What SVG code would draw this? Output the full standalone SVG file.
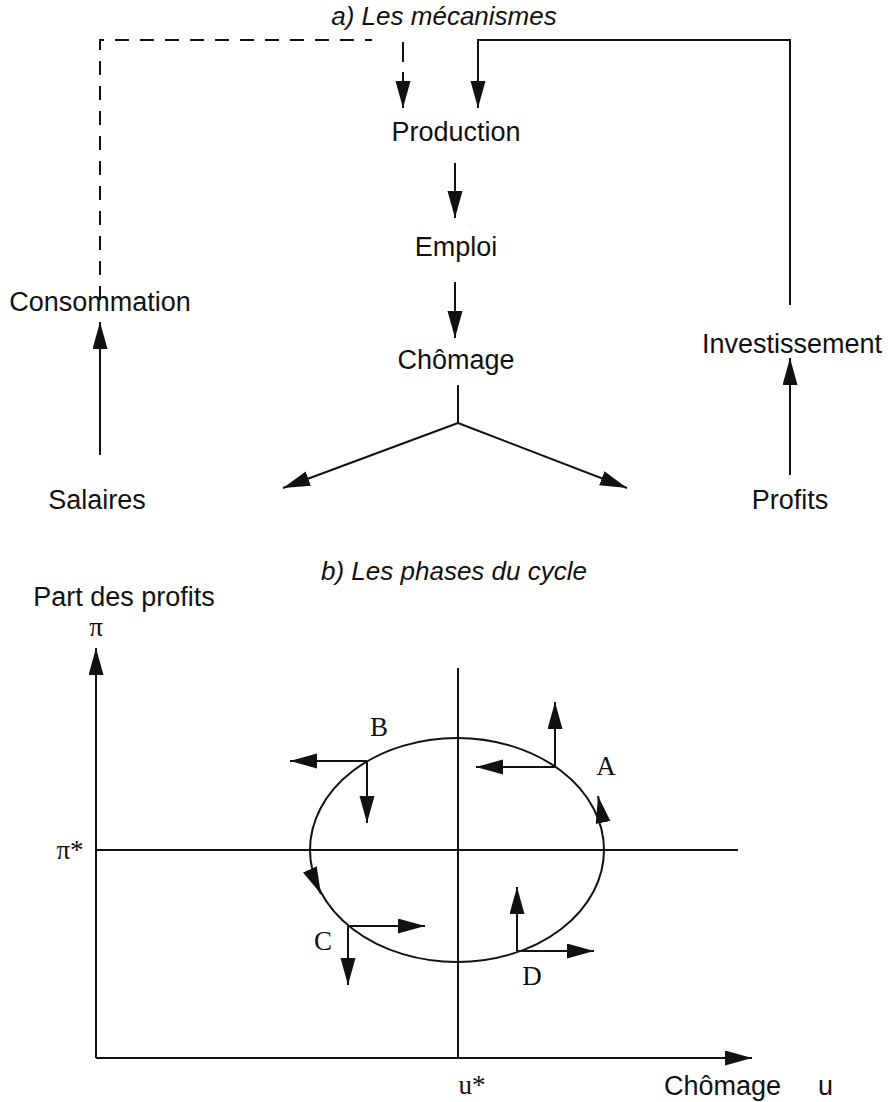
<svg xmlns="http://www.w3.org/2000/svg" width="890" height="1102" viewBox="0 0 890 1102">
<style>
.t{font-family:"Liberation Sans",Arial,sans-serif;font-size:27px;fill:#111;text-anchor:middle}
.ts{font-family:"Liberation Sans",Arial,sans-serif;font-size:27px;fill:#111}
.ti{font-family:"Liberation Sans",Arial,sans-serif;font-size:26px;font-style:italic;fill:#111;text-anchor:middle}
.s{font-family:"Liberation Serif","Times New Roman",serif;font-size:27px;fill:#111;text-anchor:middle}
.l{stroke:#111;stroke-width:2;fill:none}
.d{stroke:#111;stroke-width:2;fill:none;stroke-dasharray:14,11}
.a{stroke:#111;stroke-width:2;fill:none;marker-end:url(#ah)}
.ad{stroke:#111;stroke-width:2;fill:none;stroke-dasharray:20,10;marker-end:url(#ah)}
</style>
<defs>
<marker id="ah" markerUnits="userSpaceOnUse" markerWidth="30" markerHeight="16" refX="27" refY="7.5" orient="auto">
<path d="M0,0 L27,7.5 L0,15 z" fill="#111"/>
</marker>
</defs>
<rect width="890" height="1102" fill="#fff"/>
<text class="ti" x="444" y="25">a) Les mécanismes</text>
<g id="production"><text class="t" x="456" y="141">Production</text></g>
<g id="emploi"><text class="t" x="456" y="256">Emploi</text></g>
<g id="chomage"><text class="t" x="456" y="369">Chômage</text></g>
<g id="consommation"><text class="t" x="100" y="311">Consommation</text></g>
<g id="salaires"><text class="t" x="97" y="509">Salaires</text></g>
<g id="investissement"><text class="t" x="792" y="353">Investissement</text></g>
<g id="profits"><text class="t" x="790" y="509">Profits</text></g>
<g id="connectors">
<path class="d" d="M100,300 V40 H372"/>
<path class="ad" d="M403,42 V108"/>
<path class="a" d="M790,305 V40 H478 V108"/>
<path class="a" d="M455,163 V218"/>
<path class="a" d="M455,282 V338"/>
<path class="l" d="M458,385 V423"/>
<path class="a" d="M458,423 L283,488"/>
<path class="a" d="M458,423 L627,488"/>
<path class="a" d="M100,455 V322"/>
<path class="a" d="M790,475 V358"/>
</g>
<text class="ti" x="454" y="580">b) Les phases du cycle</text>
<g id="axes">
<text class="t" x="124" y="606">Part des profits</text>
<text class="s" x="96" y="636">π</text>
<text class="s" x="70" y="859">π*</text>
<text class="s" x="472" y="1094">u*</text>
<text class="ts" x="664" y="1095">Chômage</text>
<text class="ts" x="818" y="1095">u</text>
<path class="a" d="M96,1058 V648"/>
<path class="a" d="M96,1058 H752"/>
<path class="l" d="M96,850 H738"/>
<path class="l" d="M458,668 V1058"/>
</g>
<g id="cycle">
<ellipse class="l" cx="457" cy="850" rx="147" ry="112"/>
<path class="a" d="M603,822 L598,796"/>
<path class="a" d="M311,872 L321,894"/>
</g>
<g id="phaseA">
<text class="s" x="606" y="775">A</text>
<path class="a" d="M555,767 V702"/>
<path class="a" d="M555,767 H476"/>
</g>
<g id="phaseB">
<text class="s" x="379" y="736">B</text>
<path class="a" d="M367,761 H290"/>
<path class="a" d="M367,761 V823"/>
</g>
<g id="phaseC">
<text class="s" x="323" y="950">C</text>
<path class="a" d="M348,926 H425"/>
<path class="a" d="M348,926 V985"/>
</g>
<g id="phaseD">
<text class="s" x="532" y="985">D</text>
<path class="a" d="M517,951 V887"/>
<path class="a" d="M517,951 H594"/>
</g>
</svg>
